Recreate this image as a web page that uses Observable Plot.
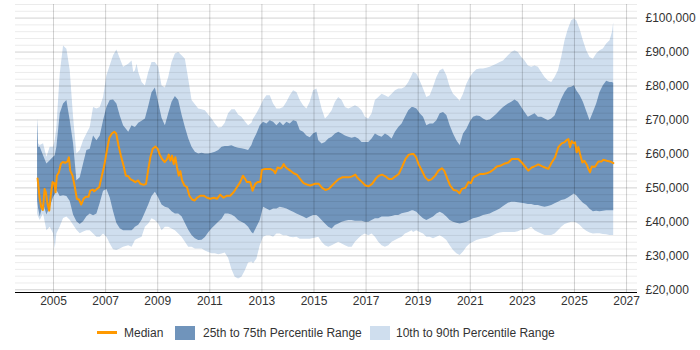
<!DOCTYPE html>
<html><head><meta charset="utf-8">
<script src="https://cdn.jsdelivr.net/npm/d3@7"></script>
<script src="https://cdn.jsdelivr.net/npm/@observablehq/plot@0.6"></script>
<style>
body{margin:0;background:#fff;}
#wrap{position:relative;width:700px;height:350px;font-family:"Liberation Sans",Arial,sans-serif;overflow:hidden;}
#chart svg{display:block;}
.lg{position:absolute;font-size:12px;color:#333;line-height:16px;white-space:nowrap;}
</style></head>
<body><div id="wrap"><div id="chart"></div>
<div class="lg" style="left:97px;top:331px;width:20px;height:3px;background:#ff9900;"></div>
<div class="lg" style="left:124px;top:325px;">Median</div>
<div class="lg" style="left:175px;top:326px;width:20px;height:14px;background:#7094bb;"></div>
<div class="lg" style="left:203px;top:325px;">25th to 75th Percentile Range</div>
<div class="lg" style="left:370px;top:326px;width:20px;height:14px;background:#cfdeee;"></div>
<div class="lg" style="left:396px;top:325px;">10th to 90th Percentile Range</div>
</div>
<script>
// Band sample times (decimal years)
const bandYears = [
2004.387,2004.425,2004.489,2004.617,2004.745,2004.873,2005.001,2005.065,2005.129,2005.257,2005.385,2005.513,2005.641,2005.769,2005.897,2006.025,2006.153,2006.281,2006.409,2006.537,2006.665,2006.793,2006.921,2007.049,2007.177,2007.305,2007.433,2007.561,2007.689,
2007.887,2008.015,2008.079,2008.143,2008.207,2008.271,2008.399,2008.527,2008.655,2008.782,2008.910,2009.038,2009.166,2009.294,2009.422,2009.550,2009.678,2009.806,2009.934,2010.062,2010.190,2010.318,2010.446,2010.574,2010.702,2010.830,2010.958,2011.086,2011.214,2011.342,2011.470,
2011.592,2011.720,2011.848,2011.976,2012.104,2012.232,2012.360,2012.488,2012.616,2012.680,2012.808,2012.936,2013.064,2013.192,2013.320,2013.448,2013.576,2013.704,2013.832,2013.960,2014.088,2014.216,2014.344,2014.472,2014.600,2014.727,2014.855,2014.983,2015.111,
2015.183,2015.311,2015.439,2015.567,2015.695,2015.823,2015.951,2016.079,2016.207,2016.335,2016.463,2016.591,2016.718,2016.846,2016.974,2017.102,2017.230,2017.358,2017.486,2017.614,2017.742,2017.870,2017.998,2018.126,2018.254,2018.382,2018.510,2018.638,2018.766,
2018.821,2018.949,2019.077,2019.205,2019.333,2019.461,2019.589,2019.717,2019.845,2019.972,2020.100,2020.228,2020.356,2020.484,2020.612,2020.740,2020.868,2020.996,2021.124,2021.252,2021.380,2021.508,2021.636,2021.764,2021.892,2022.020,2022.148,2022.276,
2022.463,2022.591,2022.718,2022.846,2022.974,2023.102,2023.230,2023.358,2023.486,2023.614,2023.742,2023.870,2023.998,2024.126,2024.254,2024.382,2024.510,2024.638,2024.766,2024.894,2024.996,2025.086,2025.214,2025.342,2025.470,2025.598,2025.726,2025.853,2025.981,2026.109,2026.237,2026.365,2026.455,2026.506
];
const p10 = [
42400,41500,40400,42400,37400,38400,36500,32000,36500,38500,41000,41400,40500,39000,37500,36500,37000,37400,37400,36400,35500,35500,36400,35500,33500,31800,31600,32000,32500,
33000,32500,33500,34500,34800,35000,35500,38400,39400,40900,40400,39400,37400,38400,38400,37900,37400,36400,35500,34000,32500,32500,32000,32000,32000,31400,31000,30600,30600,30300,30500,
30800,29300,26000,23700,23200,23700,25500,27900,28200,27700,29100,33000,35500,35900,35900,35500,36400,36400,35900,35900,35500,35300,35500,34900,34900,34900,34900,35100,35300,
35500,34000,33000,32500,33000,33500,34000,33500,33000,32500,32500,34000,35000,35900,36400,35900,36400,35500,34000,33000,32500,33000,34000,34500,35000,35500,36400,36900,37400,
36900,37400,36900,36400,35500,35500,35000,35500,35900,35300,34500,33000,31600,30600,30100,31100,32500,33500,34000,34500,34800,35000,35200,35500,35900,36400,36700,36900,
36900,36900,36900,37100,37500,37500,37900,38400,37400,36900,36400,36000,36000,36000,36400,37400,38400,39200,39600,39900,39900,39700,39000,38000,37200,36700,36400,36500,36500,36300,36200,36000,36000,36000
];
const p25 = [
46300,44000,41400,45300,42000,44300,47200,48000,49200,47500,47700,47500,46000,42000,40000,39200,40000,41500,42300,41800,42300,45500,49000,49500,47000,43000,39500,38000,37400,
37400,37400,37800,38400,38700,39000,40500,42700,45000,47500,48700,47000,45000,44300,44000,43000,42300,42300,41500,39500,37500,36000,35000,34500,34600,35400,36800,38000,38900,39900,40800,
42300,42300,42000,41400,40400,39900,39400,38400,36900,36400,38400,40400,44300,43800,43300,43800,43800,44300,44100,43800,43300,42800,42300,41900,41400,40900,41400,41900,41900,
41400,40400,39400,38400,37900,38900,39400,39900,40200,40400,40400,40200,40200,40200,39900,39900,40400,40900,40900,41400,41400,41400,41600,41900,41900,42400,42600,42800,43300,
43300,42800,41800,40900,40400,40900,41400,42300,42800,42300,41400,40400,39900,39600,39400,39600,39900,40400,40900,41100,41400,41900,42100,42300,42800,43300,43800,44500,
45500,45800,45800,45600,45500,45300,45100,45100,44800,44800,44500,44300,44500,44800,45300,45800,46300,46500,47000,47700,48200,47700,46500,45500,44800,43700,43000,43100,43000,43100,43300,43300,43300,43300
];
const p75 = [
70300,62000,62000,59500,57000,58000,59000,59500,62000,71800,74700,75700,69800,63000,52100,53000,57000,61000,61400,65300,63900,65300,69800,73700,75700,75900,74700,71200,68300,
66400,68300,68000,67800,68400,69000,69600,70300,74000,78000,79400,75000,70500,68300,71800,75200,76900,75700,71500,67800,64500,62000,60500,60000,60200,60000,60000,60200,60500,61000,62000,
62200,62200,62400,62000,61700,61500,61300,61000,62500,63900,65900,68300,69300,68800,69800,69300,68300,69300,68300,69300,68800,69800,69500,66900,66400,65300,64800,65900,66400,
63900,62900,63400,64400,64900,65900,66400,65900,65300,64900,64600,64900,64400,63400,63400,63400,64400,65900,65300,64900,65900,65300,64400,66400,67800,68800,70800,72700,73700,
73700,73200,71800,70800,68300,68800,68800,69800,71800,72200,71300,68300,65900,63900,62500,65900,67300,69300,70800,71200,71000,70300,69800,70000,70800,71700,72700,73700,
74700,75200,75900,75200,73700,72200,70800,71300,71800,70800,70800,70300,69800,70300,71200,73700,76100,78100,79400,79600,80100,78600,77200,75200,72500,69800,72200,74700,78100,80100,81400,81000,81000,80800
];
const p90 = [
70300,63000,62500,63000,59000,62000,62000,63900,67800,83500,91800,90800,84500,70800,60000,61000,63900,65900,67800,73700,73200,73700,76600,83000,86000,88900,90600,88000,85500,
86400,87400,84000,84500,86400,84000,81000,80000,84000,86900,86900,85500,80000,79400,82500,86900,89400,89900,88900,87900,82000,75700,74500,73200,73000,72700,71500,70300,68800,67600,67800,
69000,71800,73000,73000,71500,70800,69500,68300,69000,70300,71800,73700,75700,77100,77100,74700,73200,73200,73700,75200,77100,78600,78100,75700,74200,73200,75200,78600,79100,
77100,73200,70300,71300,72700,75200,76600,75700,73700,73200,73700,74200,73700,72700,70800,70300,71800,75700,76600,77600,77100,76600,77600,78600,79100,79100,79600,81000,83000,
84000,83500,81500,79100,76600,77100,79600,82500,84500,85000,83000,79600,77600,76600,75500,77600,80500,82500,83800,84800,85000,85000,85200,85500,86000,86400,86900,87400,
88900,89900,90400,89900,88400,87400,85900,85500,85900,85500,84000,82500,81500,81000,82500,84500,88400,93300,96700,99200,99700,99200,96700,93300,90400,88400,87900,89400,90400,90900,92400,93300,95700,98600
];
// Median series
const medianYears = [
2004.387,2004.464,2004.528,2004.592,2004.656,2004.707,2004.771,2004.835,2004.899,2004.963,2005.027,2005.078,2005.129,2005.206,2005.283,2005.347,2005.449,2005.539,2005.590,2005.641,2005.731,2005.807,2005.897,2005.987,2006.063,2006.153,2006.242,2006.345,2006.409,2006.511,2006.562,2006.665,2006.754,2006.857,2006.946,2007.049,2007.139,2007.241,2007.331,2007.407,2007.497,2007.586,2007.689,2007.778,
2007.861,2007.951,2008.040,2008.143,2008.245,2008.335,2008.463,2008.552,2008.629,2008.718,2008.808,2008.910,2009.000,2009.077,2009.166,2009.269,2009.358,2009.422,2009.486,2009.550,2009.614,2009.678,2009.742,2009.806,2009.870,2009.934,2010.024,2010.126,2010.216,2010.318,2010.420,2010.510,2010.638,2010.766,2010.894,2011.022,2011.150,2011.278,
2011.400,2011.528,2011.656,2011.784,2011.912,2012.040,2012.168,2012.271,2012.360,2012.424,2012.552,2012.642,2012.744,2012.834,2012.936,2013.000,2013.128,2013.320,2013.448,2013.512,2013.601,2013.704,2013.768,2013.832,2013.896,2013.960,2014.088,2014.216,2014.344,2014.472,2014.600,2014.727,2014.855,2015.047,
2015.183,2015.311,2015.439,2015.567,2015.695,2015.823,2015.951,2016.079,2016.207,2016.335,2016.463,2016.591,2016.655,2016.718,2016.846,2016.974,2017.102,2017.230,2017.358,2017.486,2017.614,2017.742,2017.870,2017.998,2018.126,2018.254,2018.382,2018.510,2018.638,2018.766,
2018.821,2018.923,2019.013,2019.141,2019.269,2019.397,2019.525,2019.653,2019.781,2019.909,2019.998,2020.100,2020.228,2020.356,2020.484,2020.587,2020.676,2020.804,2020.932,2021.022,2021.124,2021.252,2021.380,2021.508,2021.636,2021.764,2021.892,2022.020,2022.148,2022.276,
2022.335,2022.463,2022.591,2022.718,2022.846,2022.974,2023.102,2023.230,2023.358,2023.486,2023.614,2023.742,2023.870,2023.998,2024.126,2024.254,2024.318,2024.382,2024.510,2024.612,2024.702,2024.766,2024.830,2024.894,2024.958,2025.022,2025.086,2025.150,2025.214,2025.303,2025.380,2025.470,2025.534,2025.598,2025.662,2025.790,2025.917,2026.045,2026.109,2026.237,2026.365,2026.494
];
const medianValues = [
52800,47200,44300,43500,49700,48700,45300,43300,48200,51700,51400,48700,53600,54600,57100,57600,57400,57800,59000,55100,53600,50700,46800,46500,45100,46800,47400,47400,49200,49500,49000,49700,50200,53600,56500,61000,64700,66000,66500,66000,62400,59500,56500,53600,
53500,52600,52200,51700,52200,51200,50900,51200,55100,59000,61500,62200,61500,59800,58500,57600,58500,59800,58000,59500,57000,59000,56000,53600,54900,52200,50700,50200,47700,46600,46300,47100,47700,47700,47100,46800,47100,46800,
48000,47100,47700,47700,48700,50200,51700,53600,52600,51700,51700,49200,51200,51700,51700,55300,55600,55600,55100,54300,56000,55700,56000,57000,56200,55800,55100,54300,53900,52600,51400,51000,50700,51200,
51200,50000,49400,49700,50700,51700,52600,53100,53100,53100,53400,53900,53100,52600,51700,50700,50500,51200,52600,53600,53900,53400,52600,52600,53400,54100,56200,58500,59800,60000,
60000,59000,57000,55100,53100,52200,52600,53600,55100,55800,55100,53100,50700,49400,49200,48400,49700,50000,51700,51400,53100,53600,54100,54100,54300,54700,55400,56300,56500,57000,
57200,57500,58500,58500,58500,57500,56300,55100,56000,56400,56900,56400,56000,55600,57500,59000,60500,62000,63100,63400,64100,64400,62000,63800,63200,63400,60500,62000,60000,57500,58000,56900,55600,54600,56300,56200,57800,57800,58300,58000,57800,57300
];
// Tick values
const yearTicks = [2005,2007,2009,2011,2013,2015,2017,2019,2021,2023,2025,2027];
const salaryTicks = [20000,30000,40000,50000,60000,70000,80000,90000,100000];
const minorSalaryTicks = d3.range(20000, 104001, 2000).filter(v => v % 10000 !== 0);

const bands = bandYears.map((t, i) => ({t, p10: p10[i], p25: p25[i], p75: p75[i], p90: p90[i]}));
const med = medianYears.map((t, i) => ({t, v: medianValues[i]}));
const fmt = d3.format(",");

const chart = Plot.plot({
  width: 700, height: 314,
  marginLeft: 15, marginRight: 63, marginTop: 4, marginBottom: 22,
  style: {fontFamily: '"Liberation Sans", Arial, sans-serif', fontSize: "12px", color: "#333", background: "#fff"},
  x: {domain: [2003.54, 2027.42]},
  y: {domain: [19200, 104000]},
  marks: [
    Plot.areaY(bands, {x: "t", y1: "p10", y2: "p90", fill: "#cfdeee"}),
    Plot.areaY(bands, {x: "t", y1: "p25", y2: "p75", fill: "#7094bb"}),
    Plot.gridY(minorSalaryTicks, {stroke: "#000", strokeOpacity: 0.08}),
    Plot.gridY(salaryTicks, {stroke: "#000", strokeOpacity: 0.18}),
    Plot.gridX(yearTicks, {stroke: "#000", strokeOpacity: 0.18}),
    Plot.lineY(med, {x: "t", y: "v", stroke: "#ff9900", strokeWidth: 2}),
    Plot.axisY(salaryTicks, {anchor: "right", tickSize: 0, tickPadding: 8, tickFormat: d => "£" + fmt(d), label: null}),
    Plot.axisX(yearTicks, {anchor: "bottom", tickSize: 0, tickPadding: 4, tickFormat: d => String(d), label: null}),
    Plot.ruleY([19200], {stroke: "#000", strokeWidth: 1.2})
  ]
});
document.getElementById("chart").appendChild(chart);
</script>
</body></html>
